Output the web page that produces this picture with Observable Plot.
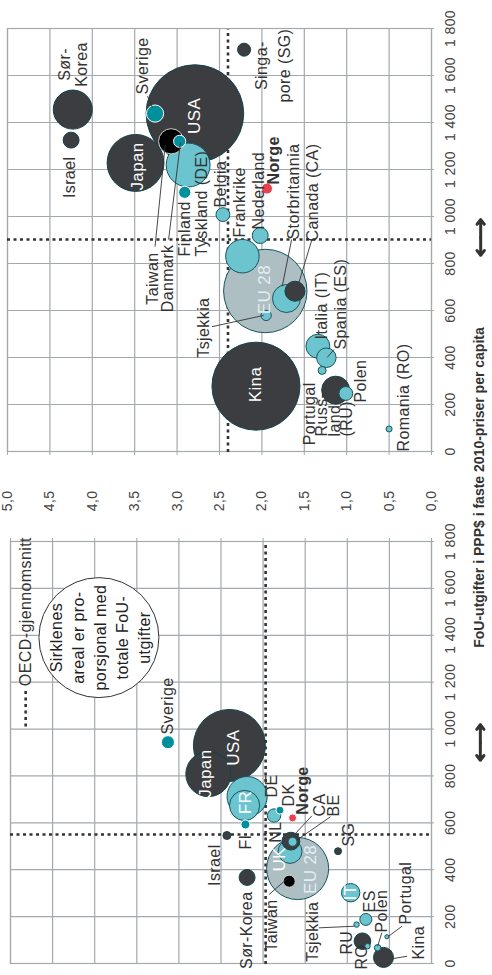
<!DOCTYPE html>
<html><head><meta charset="utf-8">
<script src="https://cdn.jsdelivr.net/npm/d3@7"></script>
<script src="https://cdn.jsdelivr.net/npm/@observablehq/plot@0.6"></script>
<style>
html,body{margin:0;padding:0;background:#fff;width:492px;height:975px;overflow:hidden}
#rot{position:absolute;left:0;top:0;width:975px;height:492px;transform-origin:0 0;transform:translate(0px,975px) rotate(-90deg);font-family:"Liberation Sans",Arial,sans-serif;color:#333}
#left,#right{position:absolute;top:0}
#left{left:0}
#right{left:440px}
#title{position:absolute;left:0;width:975px;top:471px;text-align:center;font-weight:bold;font-size:14px;line-height:17px;color:#333}
svg text{letter-spacing:0.4px}
</style></head><body>
<div id="rot">
  <div id="left"></div><div id="right"></div>
  <div id="title">FoU-utgifter i PPP$ i faste 2010-priser per capita</div>
</div>
<script>
// ---------- data ----------
const countries = ["USA","Kina","EU 28","Japan","Tyskland","Sør-Korea","Frankrike","Storbritannia","Russland","Taiwan","Italia","Canada","Spania","Sverige","Israel","Nederland","Belgia","Polen","Singapore","Finland","Danmark","Norge","Tsjekkia","Portugal","Romania"];
const groups = ["other","other","eu28","other","eu","other","eu","eu","other","taiwan","eu","other","eu","nordic","other","eu","eu","eu","other","nordic","nordic","norge","eu","eu","eu"];

// latest year (right panel)
const pppNew   = [1438, 278, 683, 1228, 1219, 1455, 831, 651, 261, 1320, 448, 682, 399, 1438, 1325, 919, 1008, 247, 1710, 1103, 1320, 1119, 579, 345, 96];
const shareNew = [2.79, 2.07, 1.96, 3.49, 2.87, 4.23, 2.23, 1.71, 1.13, 3.07, 1.34, 1.61, 1.24, 3.26, 4.25, 2.02, 2.46, 1.01, 2.21, 2.91, 2.97, 1.94, 1.95, 1.29, 0.50];
const totalNew = [450, 366, 329, 153, 91, 72, 53, 37, 37, 30, 27, 19, 18, 14, 12, 12, 9, 9, 8, 7, 7, 5.7, 5, 3, 1.7];

// earlier year (left panel)
const pppOld   = [930, 26, 405, 808, 712, 367, 674, 478, 95, 351, 302, 522, 188, 944, 546, 631, 519, 67, 479, 593, 654, 621, 166, 114, 74];
const shareOld = [2.40, 0.57, 1.59, 2.65, 2.19, 2.19, 2.22, 1.68, 0.82, 1.69, 0.96, 1.67, 0.78, 3.13, 2.43, 1.87, 1.65, 0.64, 1.11, 2.21, 1.80, 1.65, 0.89, 0.53, 0.76];
const totalOld = [245, 19, 182, 96, 76, 12, 43, 27, 13, 6.8, 16, 15, 6.8, 8, 3, 8.5, 3.8, 2, 2.3, 3.8, 3, 3, 1.4, 0.8, 1.4];

const oecdNew = {ppp: 902, share: 2.40};
const oecdOld = {ppp: 550, share: 1.97};

const xTicks = d3.range(0, 1801, 200);
const yTicks = d3.range(0, 5.001, 0.5);

// labels right panel
const rLabText   = ["Sør-\nKorea","Israel","Sverige","Tyskland (DE)","Finland","Taiwan","Danmark","Belgia","Frankrike","Nederland","Storbritannia","Canada (CA)","Tsjekkia","Italia (IT)","Spania (ES)","Portugal","Russ-\nland\n(RU)","Polen","Romania (RO)","Singa-\npore (SG)","Norge"];
const rLabX      = [1647,1255,1519,830,830,847,881,1038,911,945,902,894,655,477,434,294,64,208,0,1642,1136];
const rLabY      = [4.23,4.27,3.40,2.71,2.91,3.28,3.11,2.48,2.26,2.04,1.62,1.40,2.68,1.29,1.07,1.43,1.13,0.83,0.33,1.89,1.86];
const rLabAnchor = ["middle","end","start","start","start","end","end","start","start","start","start","start","end","start","start","end","start","start","start","middle","start"];
const rLabLH     = [1.08,1,1,1,1,1,1,1,1,1,1,1,1,1,1,1,0.78,1,1,1.4,1];
const rInText = ["USA","Japan","EU 28","Kina"];
const rInX = [1428,1213,689,285];
const rInY = [2.79,3.47,1.97,2.08];
const rLeadX1 = [1512,1306,1316,703,717,531,434];
const rLeadY1 = [3.35,3.14,2.96,1.76,1.565,2.59,1.15];
const rLeadX2 = [1464,872,902,902,902,579,400];
const rLeadY2 = [3.29,3.26,3.10,1.65,1.41,1.98,1.23];
const rArrow = {x: 911, y: -0.58, half: 76};

// labels left panel
const lLabText   = ["Sverige","DE","DK","Norge","CA","BE","NL","FI","Israel","Sør-Korea","Taiwan","SG","ES","Tsjekkia","RU","RO","Polen","Portugal","Kina"];
const lLabX      = [977,708,670,635,627,627,606,550,508,307,273,499,218,264,38,-26,132,166,17];
const lLabY      = [3.14,1.90,1.70,1.53,1.33,1.16,1.85,2.21,2.58,2.20,1.90,0.99,0.74,1.42,1.01,0.83,0.59,0.31,0.16];
const lLabAnchor = ["start","start","start","start","start","start","end","end","end","end","end","start","start","end","start","start","start","start","start"];
const lInText = ["USA","Japan","FR","UK","EU 28","IT"];
const lInX = [921,810,687,444,401,303];
const lInY = [2.35,2.68,2.21,1.81,1.44,0.96];
const lLeadX1 = [545,526,294,152,131,159,31];
const lLeadY1 = [1.64,1.60,1.93,1.34,0.59,0.35,0.29];
const lLeadX2 = [630,626,363,159,74,116,20];
const lLeadY2 = [1.42,1.20,1.71,0.92,0.64,0.51,0.47];
const lArrow = {x: 943, y: -0.58, half: 76};

const legendText = "Sirklenes\nareal er pro-\nporsjonal med\ntotale FoU-\nutgifter";
const legendAt = {x: 1390, y: 3.95};
const oecdLegend = {text: "OECD-gjennomsnitt", x: 1183, y: 4.82, x1: 1011, x2: 1165};

// ---------- styles ----------
const GRID = "#a4a9ae";
const FILL = {other:"#3c3d40", taiwan:"#000000", eu:"#6cc4cf", eu28:"#adbfc3", nordic:"#00909c", norge:"#e8404f"};
const STROKE = {other:"#10444b", taiwan:"#d0d0d0", eu:"#155660", eu28:"#155660", nordic:"#ffffff", norge:"#ffffff"};
const fmtX = d => d >= 1000 ? Math.floor(d/1000) + " " + String(d % 1000).padStart(3, "0") : String(d);
const fmtY = d => d.toFixed(1).replace(".", ",");

function panel(o) {
  const rows = countries.map((c, i) => ({name: c, g: groups[i], x: o.ppp[i], y: o.share[i], v: o.total[i]}));
  const labels = o.labText.map((t, i) => ({t, x: o.labX[i], y: o.labY[i], a: o.labAnchor[i], lh: o.labLH ? o.labLH[i] : 1.1}));
  const inside = o.inText.map((t, i) => ({t, x: o.inX[i], y: o.inY[i]}));
  const leads = o.leadX1.map((_, i) => ({x1: o.leadX1[i], y1: o.leadY1[i], x2: o.leadX2[i], y2: o.leadY2[i]}));
  const arrows = [
    {x1: o.arrow.x, x2: o.arrow.x - o.arrow.half, y: o.arrow.y},
    {x1: o.arrow.x, x2: o.arrow.x + o.arrow.half, y: o.arrow.y}
  ];
  const marks = [
    Plot.gridX(xTicks, {stroke: GRID, strokeOpacity: 1, strokeWidth: 1.2}),
    Plot.gridY(yTicks, {stroke: GRID, strokeOpacity: 1, strokeWidth: 1.2}),
    Plot.frame({stroke: GRID, strokeWidth: 1.2}),
    Plot.axisX(xTicks, {tickSize: 3, tickPadding: 11, tickFormat: fmtX, stroke: GRID, fill: "#444", fontSize: 14, label: null}),
    o.left
      ? Plot.axisY(yTicks, {anchor: "right", tickSize: 3, tickFormat: () => "", stroke: GRID, label: null})
      : Plot.axisY(yTicks, {anchor: "left", tickSize: 3, tickPadding: 36, tickFormat: fmtY, stroke: GRID, fill: "#444", fontSize: 14, label: null}),
    Plot.ruleX([o.oecd.ppp], {stroke: "#333", strokeWidth: 2.6, strokeDasharray: "3,3.5"}),
    Plot.ruleY([o.oecd.share], {stroke: "#333", strokeWidth: 2.6, strokeDasharray: "3,3.5"}),
    Plot.arrow(arrows, {x1: "x1", x2: "x2", y1: "y", y2: "y", stroke: "#333", strokeWidth: 3, headLength: 9, headAngle: 75})
  ];
  if (o.left) {
    marks.push(Plot.dot([legendAt], {x: "x", y: "y", r: 60, fill: "white", stroke: "#333", strokeWidth: 1}));
    marks.push(Plot.text([legendAt], {x: "x", y: "y", text: () => legendText, fontSize: 16, lineHeight: 1.38, fill: "#222"}));
    marks.push(Plot.link([oecdLegend], {x1: "x1", x2: "x2", y1: "y", y2: "y", stroke: "#333", strokeWidth: 2.6, strokeDasharray: "3,3.5"}));
    marks.push(Plot.text([oecdLegend], {x: "x", y: "y", text: "text", textAnchor: "start", fontSize: 16, fill: "#333"}));
  }
  marks.push(Plot.dot(rows, {x: "x", y: "y", r: "v", fill: d => FILL[d.g], stroke: d => STROKE[d.g], strokeWidth: 1}));
  marks.push(Plot.link(leads, {x1: "x1", y1: "y1", x2: "x2", y2: "y2", stroke: "#333", strokeWidth: 0.9}));
  for (const l of labels) {
    marks.push(Plot.text([l], {x: "x", y: "y", text: "t", textAnchor: l.a, lineHeight: l.lh, fontSize: 16,
      fill: "#333", fontWeight: l.t === "Norge" ? "bold" : "normal"}));
  }
  marks.push(Plot.text(inside, {x: "x", y: "y", text: "t", fontSize: 17, fill: d => d.t === "EU 28" ? "#e4eef0" : "#ffffff"}));
  return Plot.plot({
    width: o.width, height: 492,
    marginLeft: o.ml, marginRight: o.mr, marginTop: o.mt, marginBottom: 61,
    x: {domain: [0, 1800], label: null},
    y: {domain: [0, 5], label: null},
    r: {type: "sqrt", domain: [0, 450], range: [0, 48.8]},
    color: {type: "identity"},
    style: {fontFamily: "'Liberation Sans', Arial, sans-serif", fontSize: "16px", color: "#333", background: "transparent", overflow: "visible"},
    marks
  });
}

document.getElementById("left").append(panel({
  left: true, width: 440, ml: 11, mr: 7, mt: 10,
  ppp: pppOld, share: shareOld, total: totalOld, oecd: oecdOld, arrow: lArrow,
  labText: lLabText, labX: lLabX, labY: lLabY, labAnchor: lLabAnchor,
  inText: lInText, inX: lInX, inY: lInY,
  leadX1: lLeadX1, leadY1: lLeadY1, leadX2: lLeadX2, leadY2: lLeadY2
}));
document.getElementById("right").append(panel({
  left: false, width: 535, ml: 83, mr: 29, mt: 7,
  ppp: pppNew, share: shareNew, total: totalNew, oecd: oecdNew, arrow: rArrow,
  labText: rLabText, labX: rLabX, labY: rLabY, labAnchor: rLabAnchor, labLH: rLabLH,
  inText: rInText, inX: rInX, inY: rInY,
  leadX1: rLeadX1, leadY1: rLeadY1, leadX2: rLeadX2, leadY2: rLeadY2
}));
</script>
</body></html>
